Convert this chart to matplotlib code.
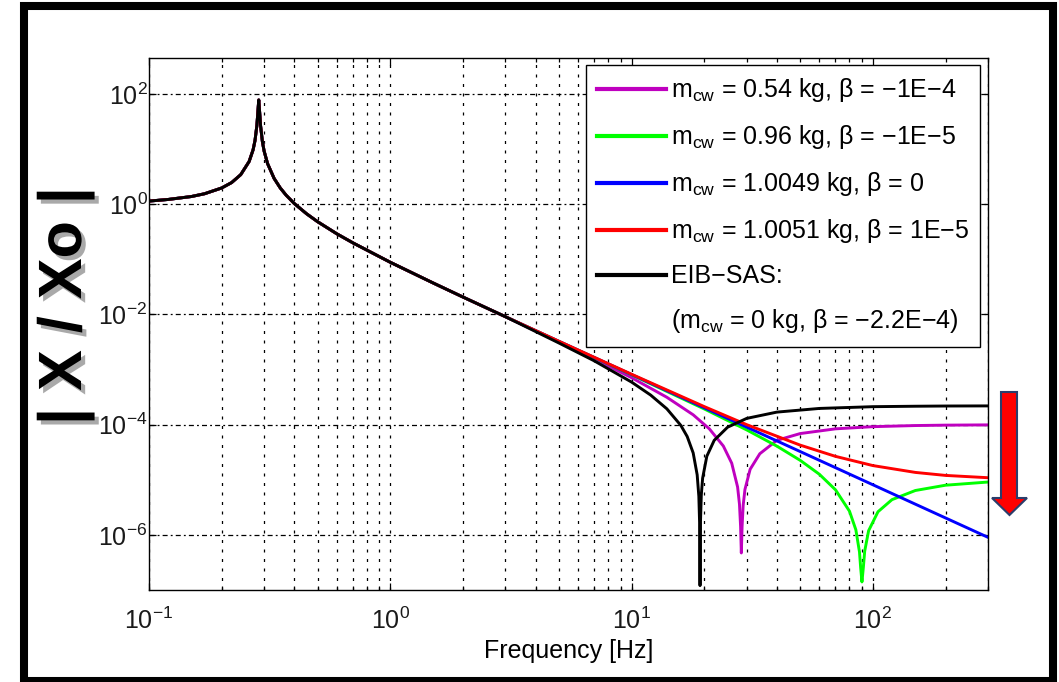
import numpy as np
import matplotlib

matplotlib.use('Agg')
import matplotlib.pyplot as plt
import matplotlib.patheffects as pe
from matplotlib.patches import Rectangle, Polygon
from matplotlib.lines import Line2D
from matplotlib.ticker import LogLocator, NullLocator

plt.rcParams['font.family'] = ['Liberation Sans', 'DejaVu Sans']
plt.rcParams['mathtext.fontset'] = 'custom'
plt.rcParams['mathtext.rm'] = 'Liberation Sans'
plt.rcParams['mathtext.it'] = 'Liberation Sans:italic'
plt.rcParams['mathtext.bf'] = 'Liberation Sans:bold'

# common low-frequency part (all curves overlap here)
shared_freq = [0.1, 0.12, 0.15, 0.17, 0.2, 0.22, 0.24, 0.26, 0.27, 0.275, 0.28, 0.2825, 0.285,
               0.2875, 0.29, 0.295, 0.3, 0.31, 0.33, 0.35, 0.37, 0.4, 0.45, 0.5, 0.6, 0.7,
               1.0, 1.5, 2.0, 3.0]
shared_mag = [1.14, 1.22, 1.38, 1.55, 1.97, 2.47, 3.44, 5.96, 9.7, 14.3, 27, 46, 78,
              46, 26.6, 13.8, 9.2, 5.46, 2.94, 1.97, 1.46, 1.03, 0.67, 0.481, 0.291, 0.199,
              0.0884, 0.0375, 0.0207, 0.0091]

# high-frequency tails
mag_freq = [5, 7, 10, 14, 18, 21, 24, 26, 27.5, 28.0, 28.3, 28.5, 28.7, 29.0, 29.5, 31, 34,
            40, 50, 70, 100, 150, 200, 300]
mag_vals = [3.15e-3, 1.56e-3, 7.12e-4, 3.14e-4, 1.51e-4, 8.4e-5, 4.1e-5, 2.0e-5, 7.4e-6,
            3.6e-6, 1.42e-6, 4.7e-7, 1.39e-6, 3.42e-6, 6.67e-6, 1.55e-5, 2.97e-5,
            5.2e-5, 6.9e-5, 8.4e-5, 9.2e-5, 9.64e-5, 9.8e-5, 9.91e-5]

grn_freq = [5, 10, 20, 30, 40, 50, 60, 70, 80, 85, 88, 89, 90.1, 91.3, 92.5, 96, 105, 120,
            150, 200, 300]
grn_vals = [3.24e-3, 8.02e-4, 1.93e-4, 8.03e-5, 4.08e-5, 2.25e-5, 1.26e-5, 6.58e-6, 2.69e-6,
            1.24e-6, 4.9e-7, 2.54e-7, 1.4e-7, 2.56e-7, 5.07e-7, 1.19e-6, 2.63e-6, 4.36e-6,
            6.39e-6, 7.97e-6, 9.1e-6]

blu_freq = [5, 10, 20, 50, 100, 200, 300]
blu_vals = [3.25e-3, 8.12e-4, 2.03e-4, 3.25e-5, 8.12e-6, 2.03e-6, 9.03e-7]

red_freq = [5, 10, 20, 30, 50, 70, 100, 150, 200, 300]
red_vals = [3.26e-3, 8.22e-4, 2.13e-4, 1.0e-4, 4.25e-5, 2.66e-5, 1.81e-5, 1.36e-5, 1.2e-5,
            1.09e-5]

blk_freq = [5, 7, 10, 12, 14, 16, 17, 18, 18.7, 19.0, 19.15, 19.215, 19.28, 19.45, 19.7,
            20.5, 22, 25, 30, 40, 60, 100, 150, 200, 300]
blk_vals = [3.03e-3, 1.44e-3, 5.92e-4, 3.44e-4, 1.94e-4, 9.7e-5, 6.1e-5, 3.07e-5, 1.23e-5,
            5.0e-6, 1.49e-6, 1.2e-7, 1.49e-6, 5.3e-6, 1.07e-5, 2.67e-5, 5.2e-5, 9.0e-5,
            1.3e-4, 1.69e-4, 1.97e-4, 2.12e-4, 2.16e-4, 2.18e-4, 2.19e-4]

labels = [r'm$_{\mathregular{cw}}$ = 0.54 kg, β = −1E−4',
          r'm$_{\mathregular{cw}}$ = 0.96 kg, β = −1E−5',
          r'm$_{\mathregular{cw}}$ = 1.0049 kg, β = 0',
          r'm$_{\mathregular{cw}}$ = 1.0051 kg, β = 1E−5',
          'EIB−SAS:']
extra_label = r'(m$_{\mathregular{cw}}$ = 0 kg, β = −2.2E−4)'
colors = ['#bf00bf', '#00ff00', '#0000ff', '#ff0000', '#000000']
tails = [(mag_freq, mag_vals), (grn_freq, grn_vals), (blu_freq, blu_vals),
         (red_freq, red_vals), (blk_freq, blk_vals)]

W, H = 1059, 682
fig = plt.figure(figsize=(W / 100, H / 100), dpi=100)
ax = fig.add_axes([149 / W, 1 - 590 / H, (988 - 149) / W, (590 - 58) / H])

handles = []
for (tf, tv), c, lab in zip(tails, colors, labels):
    f = np.array(shared_freq + tf)
    m = np.array(shared_mag + tv)
    ln, = ax.loglog(f, m, color=c, lw=2.1, label=lab)
    handles.append(ln)

ax.set_xlim(0.1, 300)
ax.set_ylim(1e-7, 4.5e2)
ax.set_yticks([1e-6, 1e-4, 1e-2, 1e0, 1e2])
ax.yaxis.set_minor_locator(NullLocator())
ax.xaxis.set_minor_locator(LogLocator(base=10, subs=np.arange(2, 10)))
ax.tick_params(which='both', direction='in', top=True, right=True, labelsize=18,
               labelcolor='#1a1a1a', width=0.9)
ax.tick_params(which='major', length=5)
ax.tick_params(which='minor', length=3)
ax.tick_params(axis='y', pad=1)
ax.tick_params(axis='x', pad=13)
for s in ax.spines.values():
    s.set_linewidth(1.0)

ax.xaxis.grid(True, which='both', linestyle=(0, (2.4, 5.2)), color='k', lw=0.9)
ax.yaxis.grid(True, which='major', linestyle=(0, (4, 2.5, 1.5, 2.5)), color='k', lw=0.9)
ax.set_axisbelow(True)

ax.set_xlabel('Frequency [Hz]', fontsize=18, labelpad=3)

extra = Line2D([], [], color='none')
leg = ax.legend(handles + [extra], labels + [extra_label], loc='upper right',
                bbox_to_anchor=(0.9905, 0.9868), borderaxespad=0, fontsize=18,
                fancybox=False, edgecolor='k', framealpha=1, handlelength=2.75,
                handletextpad=0.2, labelspacing=0.76, borderpad=0.45)
leg.get_frame().set_linewidth(1.0)
for ln in leg.get_lines():
    ln.set_linewidth(3)

# big y label with shadow
fig.text(66 / W, 1 - 306 / H, '| X / Xo |', rotation=90, fontsize=44, fontweight='bold',
         ha='center', va='center',
         path_effects=[pe.withSimplePatchShadow(offset=(3, -3), shadow_rgbFace='#555555',
                                                alpha=0.5)])

# red arrow at right
pts = [(1001, 392), (1017, 392), (1017, 498), (1027, 498), (1009.5, 515), (992, 498),
       (1001, 498)]
arrow = Polygon([(x / W, 1 - y / H) for x, y in pts], closed=True, transform=fig.transFigure,
                facecolor='#ff0000', edgecolor='#2b3d6b', lw=1.5)
fig.patches.append(arrow)

# thick outer frame
frame = Rectangle((24 / W, 1 - 681 / H), (1053 - 24) / W, (681 - 6) / H, transform=fig.transFigure,
                  fill=False, edgecolor='k', lw=5.8)
fig.patches.append(frame)

fig.savefig('out.png', dpi=100)
